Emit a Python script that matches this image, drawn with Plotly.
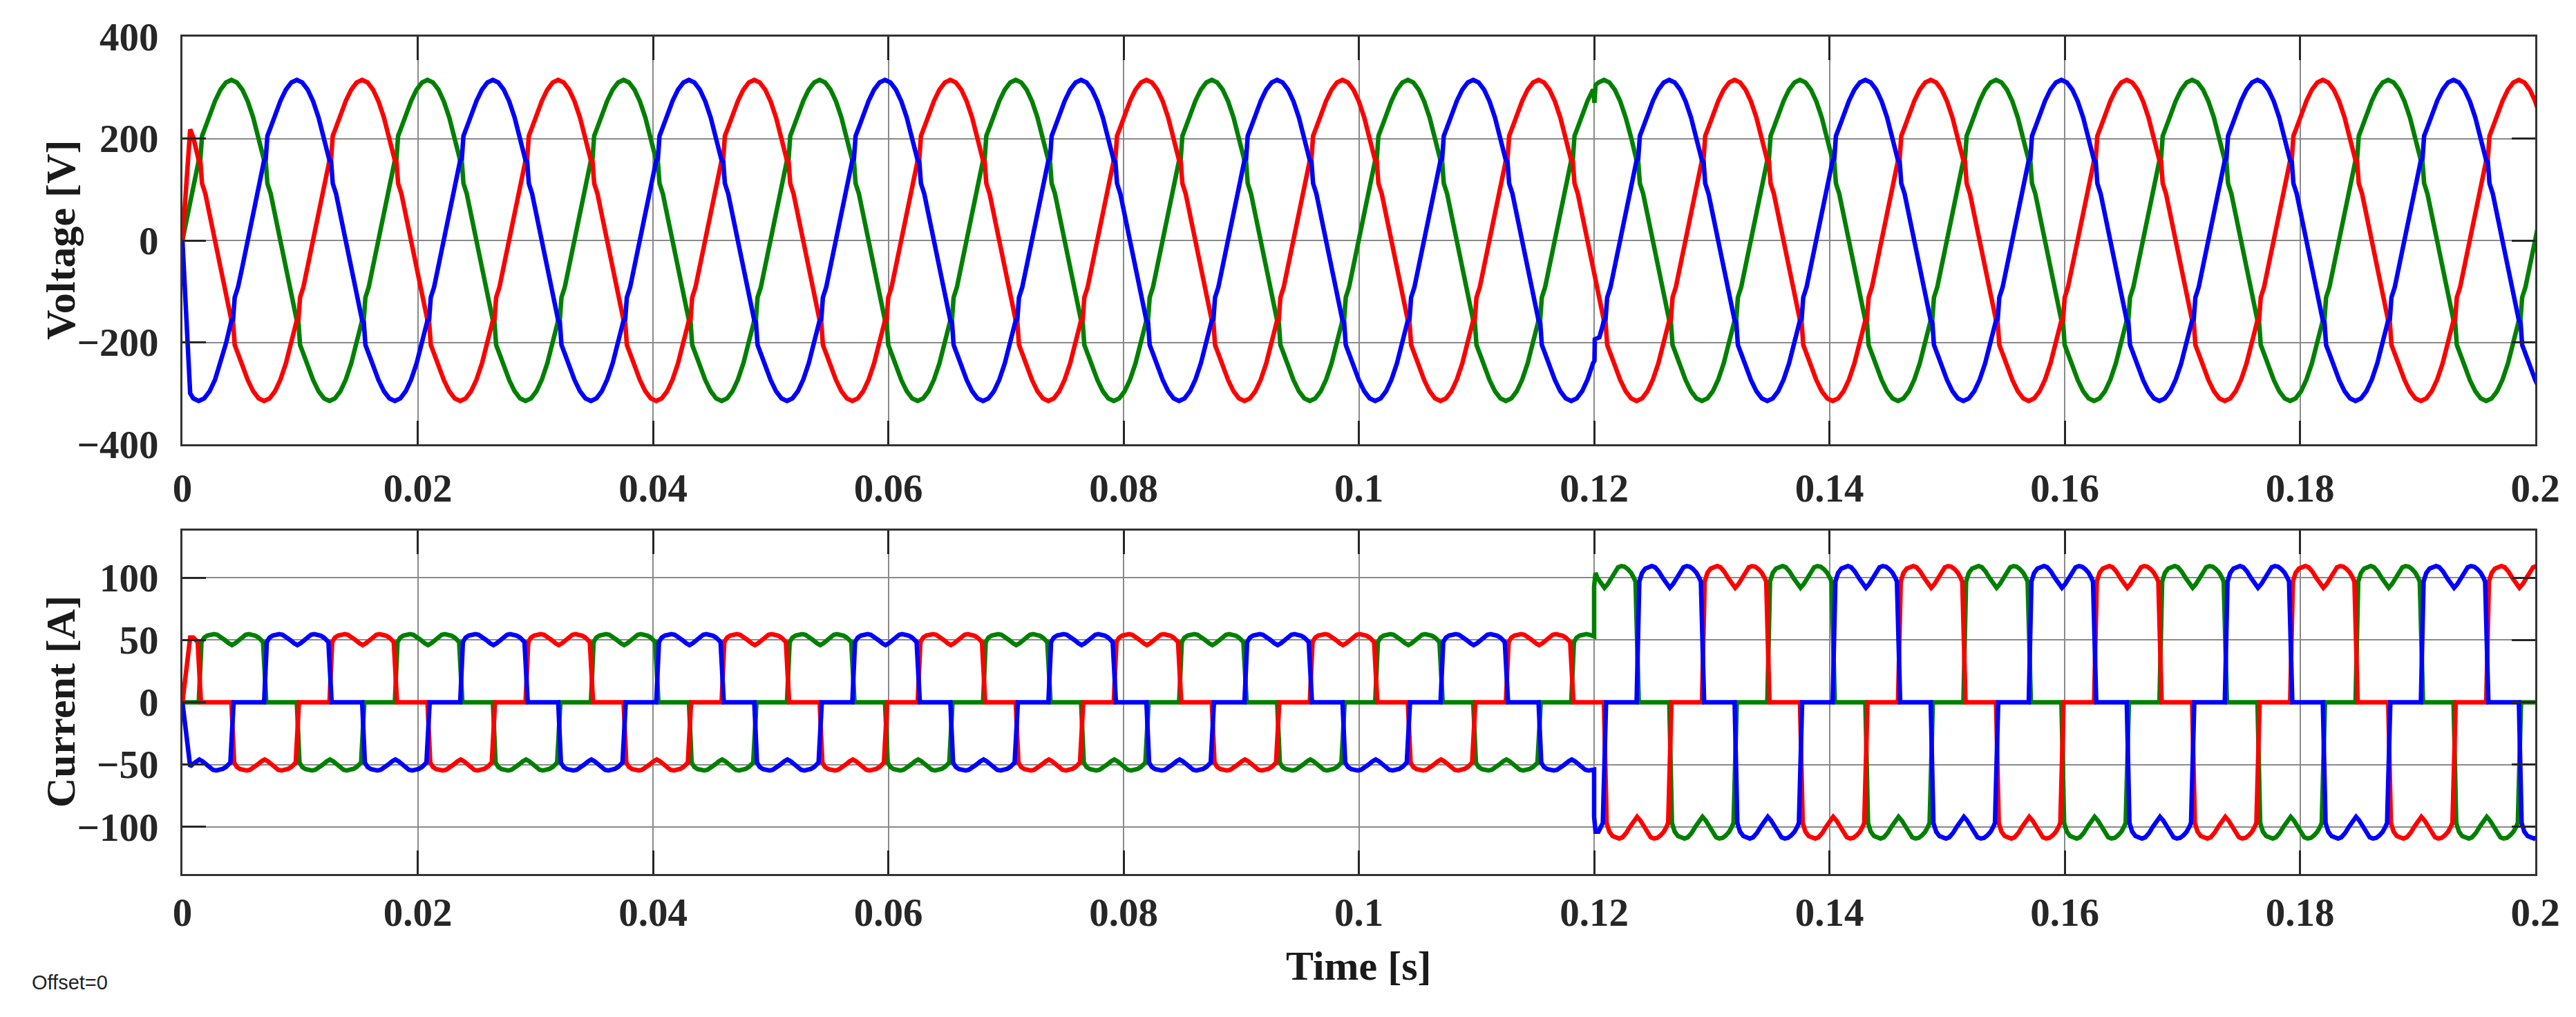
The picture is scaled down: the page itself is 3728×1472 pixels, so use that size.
import numpy as np
import plotly.graph_objects as go

# --- readings taken from the scope picture ---
grid_freq = 60.0            # 12 cycles in 0.2 s
load_step_time = 0.12

phase_names = ["green phase", "red phase", "blue phase"]
phase_colors = ["#008000", "#ff0000", "#0000ff"]
phase_shift_deg = [0, 120, -120]

# one cycle of phase voltage, with the small commutation kinks at the crossings
v_cycle_deg = [0, 10, 20, 30, 33, 36, 42, 50, 60, 70, 80, 90, 100, 110, 120, 130, 140,
               150, 153, 156, 162, 170, 180, 190, 200, 210, 213, 216, 222, 230, 240, 250,
               260, 270, 280, 290, 300, 310, 320, 330, 333, 336, 342, 350]
v_cycle_volt = [0, 55, 108, 157, 160, 205, 222, 245, 274, 296, 310, 315, 310, 296, 273, 241, 202,
                157, 155, 112, 92, 52, 0, -55, -108, -157, -160, -205, -222, -245, -274, -296,
                -310, -315, -310, -296, -273, -241, -202, -157, -155, -112, -92, -52]

# one 120 deg conduction block of line current, per unit of the dc current
i_block_deg = [0, 5, 10, 16, 22, 28, 34, 41, 48, 55, 61, 67, 74, 80, 86, 92, 98, 104,
               110, 115, 118, 124]
i_block_pu = [0, 0.97, 1.04, 1.075, 1.09, 1.095, 1.085, 1.05, 1.0, 0.95, 0.92, 0.95, 1.0,
              1.05, 1.085, 1.095, 1.09, 1.07, 1.04, 1.0, 0.97, 0]
i_dc_amp = [50, 100]        # before / after the load step

# first samples (the simulation starts from zero)
v_start_t = [0.0, 0.00066]
v_start = [[0.0, 71.0], [0.0, 218.0], [0.0, -300.0]]
i_start_t = [0.0, 0.00066]
i_start = [[0.0, 0.0], [0.0, 52.0], [0.0, -51.5]]

# disturbance at the load step
v_step_t = [[0.11995, 0.12003, 0.12012], [], [0.11995, 0.12003, 0.12006, 0.12045, 0.12072]]
v_step_v = [[293, 270, 305], [], [-237, -236, -194, -190, -168]]
i_step_t = [[0.12, 0.12, 0.12012], [], [0.12, 0.12, 0.12012]]
i_step_v = [[53, 93, 104], [], [-54, -92, -104]]

time_ticks = [0, 0.02, 0.04, 0.06, 0.08, 0.1, 0.12, 0.14, 0.16, 0.18, 0.2]
time_labels = ["0", "0.02", "0.04", "0.06", "0.08", "0.1", "0.12", "0.14", "0.16", "0.18", "0.2"]
volt_ticks = [-400, -200, 0, 200, 400]
amp_ticks = [-100, -50, 0, 50, 100]


def deg_to_t(deg):
    return np.asarray(deg, dtype=float) / (360.0 * grid_freq)


def voltage_points(shift):
    t, v = [], []
    for k in range(-1, 14):
        t += list(deg_to_t([360 * k - shift + d for d in v_cycle_deg]))
        v += v_cycle_volt
    return np.array(t), np.array(v, dtype=float)


def current_points(shift):
    t, v = [], []
    for k in range(-1, 14):
        for start, sign in ((30, 1), (210, -1)):
            t += list(deg_to_t([360 * k + start - shift + d for d in i_block_deg]))
            v += [sign * p for p in i_block_pu]
    t = np.array(t)
    v = np.array(v) * np.where(t < load_step_time, i_dc_amp[0], i_dc_amp[1])
    return t, v


def assemble(t, v, st, sv, gt, gv):
    keep = (t > st[-1]) & (t < 0.203)
    if gt:
        keep &= (t < min(gt)) | (t > max(gt))
    tt = np.concatenate([st, t[keep], gt])
    vv = np.concatenate([sv, v[keep], gv])
    order = np.argsort(tt, kind="stable")
    return tt[order], vv[order]


fig = go.Figure()
for p in range(3):
    t, v = voltage_points(phase_shift_deg[p])
    t, v = assemble(t, v, v_start_t, v_start[p], v_step_t[p], v_step_v[p])
    fig.add_trace(go.Scatter(x=t, y=v, mode="lines", name=phase_names[p],
                             line=dict(color=phase_colors[p], width=6.5),
                             xaxis="x", yaxis="y"))
for p in range(3):
    t, v = current_points(phase_shift_deg[p])
    t, v = assemble(t, v, i_start_t, i_start[p], i_step_t[p], i_step_v[p])
    fig.add_trace(go.Scatter(x=t, y=v, mode="lines", name=phase_names[p],
                             line=dict(color=phase_colors[p], width=6.5),
                             xaxis="x2", yaxis="y2"))

W, H = 3728, 1472
tick_font = dict(family="Liberation Serif", size=57, color="#262626", weight="bold")
axis_common = dict(showline=True, linecolor="#333333", linewidth=3, mirror="ticks",
                   ticks="inside", ticklen=34, tickwidth=3, tickcolor="#262626",
                   showgrid=True, gridcolor="#8a8a8a", gridwidth=2, zeroline=False,
                   tickfont=tick_font, automargin=False)
xdom = [264 / W, 3669 / W]

fig.update_layout(
    width=W, height=H, showlegend=False,
    paper_bgcolor="white", plot_bgcolor="white",
    margin=dict(l=0, r=0, t=0, b=0),
    xaxis=dict(domain=xdom, range=[0, 0.2], tickvals=time_ticks, ticktext=time_labels,
               anchor="y", ticklabelstandoff=12, **axis_common),
    yaxis=dict(domain=[1 - 643 / H, 1 - 53 / H], range=[-400, 400], tickvals=volt_ticks,
               anchor="x", ticklabelstandoff=20, **axis_common),
    xaxis2=dict(domain=xdom, range=[0, 0.2], tickvals=time_ticks, ticktext=time_labels,
                anchor="y2", ticklabelstandoff=4, **axis_common),
    yaxis2=dict(domain=[1 - 1265 / H, 1 - 768 / H], range=[-138, 138], tickvals=amp_ticks,
                anchor="x2", ticklabelstandoff=20, **axis_common),
)

title_font = dict(family="Liberation Serif", size=60, color="#1a1a1a", weight="bold")
fig.add_annotation(text="Voltage [V]", x=88 / W, y=1 - 348 / H, xref="paper", yref="paper",
                   textangle=-90, showarrow=False, font=title_font,
                   xanchor="center", yanchor="middle")
fig.add_annotation(text="Current [A]", x=88 / W, y=1 - 1016 / H, xref="paper", yref="paper",
                   textangle=-90, showarrow=False, font=title_font,
                   xanchor="center", yanchor="middle")
fig.add_annotation(text="Time [s]", x=1966 / W, y=1 - 1398 / H, xref="paper", yref="paper",
                   showarrow=False, font=dict(title_font, size=60),
                   xanchor="center", yanchor="middle")
fig.add_annotation(text="Offset=0", x=44 / W, y=1 - 1422 / H, xref="paper", yref="paper",
                   showarrow=False, font=dict(family="Liberation Sans", size=29, color="#222222"),
                   xanchor="left", yanchor="middle")

fig.write_html("out.html", config={"displayModeBar": False},
               post_script="document.body.style.margin='0';")
